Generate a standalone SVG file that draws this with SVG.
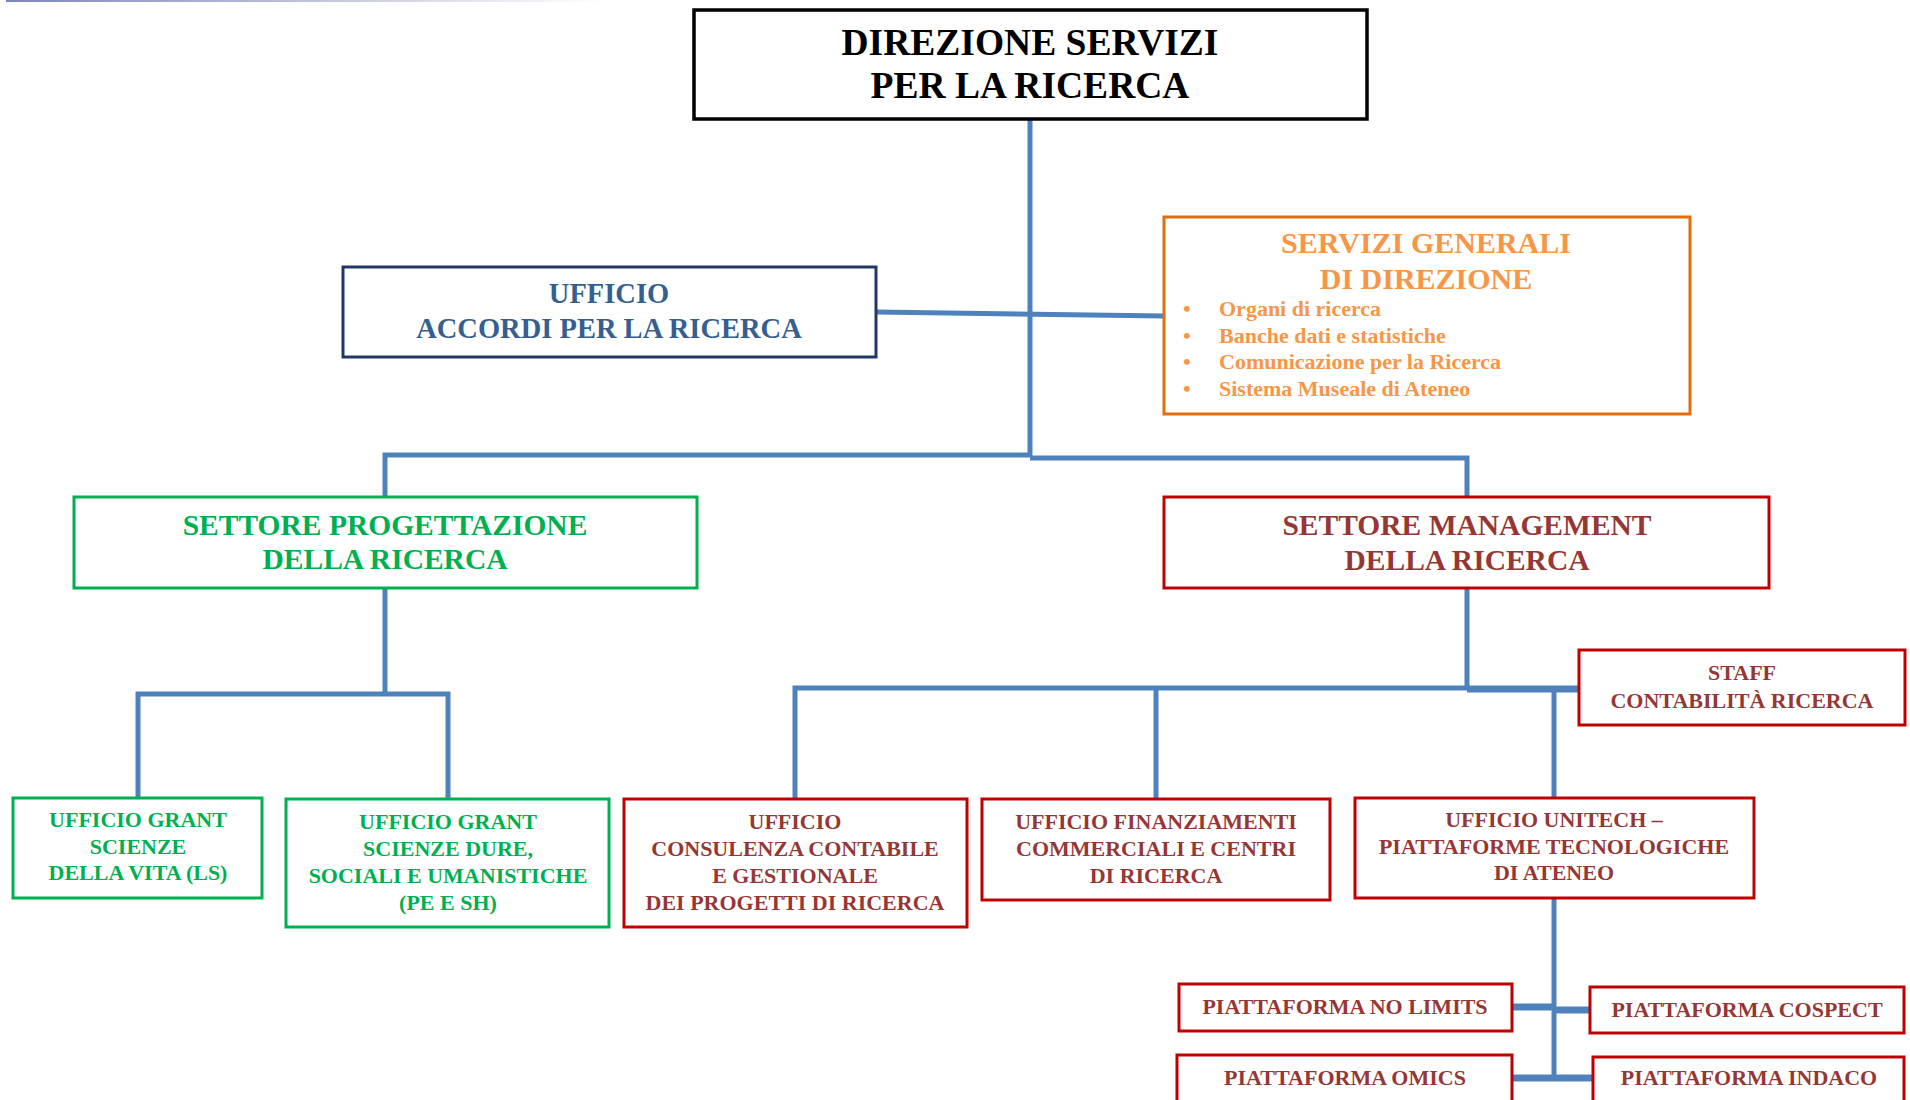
<svg xmlns="http://www.w3.org/2000/svg" width="1910" height="1100" viewBox="0 0 1910 1100">
<defs>
<linearGradient id="topline" x1="0" y1="0" x2="1" y2="0">
<stop offset="0" stop-color="#7F86B8"/>
<stop offset="1" stop-color="#FFFFFF"/>
</linearGradient>
</defs>
<style>
.t{font-family:"Liberation Serif","Times New Roman",serif;font-weight:bold;text-anchor:middle}
.b{fill:#FFFFFF;stroke-width:3}
.red{stroke:#C00000}
.rt{fill:#953735}
.grn{stroke:#00B050}
.gt{fill:#00B050}
.ot{fill:#F79646}
.c{stroke:#4F81BD;stroke-width:5;fill:none}
.ct{stroke:#4F81BD;stroke-width:7;fill:none}
.s22{font-size:22px}
.bl{font-family:"Liberation Serif","Times New Roman",serif;font-weight:bold;font-size:22px;fill:#F79646}
</style>
<rect width="1910" height="1100" fill="#FFFFFF"/>
<rect x="6" y="0" width="600" height="2" fill="url(#topline)"/>

<g id="connectors">
<path class="c" d="M1030 119 V456"/>
<path class="c" d="M876 312 L1164 316"/>
<path class="c" d="M385 497 V455 H1030"/>
<path class="c" d="M1030 458 H1467 V497"/>
<path class="c" d="M385 588 V694"/>
<path class="c" d="M138 798 V694 H448 V799"/>
<path class="c" d="M1467 588 V688"/>
<path class="c" d="M795 799 V688 H1467"/>
<path class="c" d="M1156 688 V799"/>
<path class="ct" d="M1467 689 H1579"/>
<path class="c" d="M1554 689 V798"/>
<path class="c" d="M1554 898 V1080"/>
<path class="ct" d="M1512 1007 H1554"/>
<path class="ct" d="M1554 1010 H1590"/>
<path class="ct" d="M1512 1078 H1593"/>
</g>

<g id="direzione">
<rect x="694" y="10" width="673" height="109" fill="#FFFFFF" stroke="#000000" stroke-width="3.5"/>
<text class="t" x="1030" y="55" font-size="37.5" fill="#000000">DIREZIONE SERVIZI</text>
<text class="t" x="1030" y="98" font-size="37.5" fill="#000000">PER LA RICERCA</text>
</g>

<g id="ufficio-accordi">
<rect x="343" y="267" width="533" height="90" class="b" stroke="#1F3864"/>
<text class="t" x="609" y="303" font-size="28.5" fill="#365F91">UFFICIO</text>
<text class="t" x="609" y="338" font-size="28.5" fill="#365F91">ACCORDI PER LA RICERCA</text>
</g>

<g id="servizi-generali">
<rect x="1164" y="217" width="526" height="197" class="b" stroke="#E46C0A"/>
<text class="t ot" x="1426" y="253" font-size="30">SERVIZI GENERALI</text>
<text class="t ot" x="1426" y="289" font-size="30">DI DIREZIONE</text>
<text class="bl" x="1183" y="316">•</text>
<text class="bl" x="1219" y="316">Organi di ricerca</text>
<text class="bl" x="1183" y="343">•</text>
<text class="bl" x="1219" y="343">Banche dati e statistiche</text>
<text class="bl" x="1183" y="369">•</text>
<text class="bl" x="1219" y="369">Comunicazione per la Ricerca</text>
<text class="bl" x="1183" y="396">•</text>
<text class="bl" x="1219" y="396">Sistema Museale di Ateneo</text>
</g>

<g id="settore-progettazione">
<rect x="74" y="497" width="623" height="91" class="b grn"/>
<text class="t gt" x="385" y="535" font-size="29.5">SETTORE PROGETTAZIONE</text>
<text class="t gt" x="385" y="569" font-size="29.5">DELLA RICERCA</text>
</g>

<g id="settore-management">
<rect x="1164" y="497" width="605" height="91" class="b red"/>
<text class="t rt" x="1467" y="535" font-size="29.5">SETTORE MANAGEMENT</text>
<text class="t rt" x="1467" y="570" font-size="29.5">DELLA RICERCA</text>
</g>

<g id="staff-contabilita">
<rect x="1579" y="650" width="326" height="75" class="b red"/>
<text class="t rt s22" x="1742" y="680">STAFF</text>
<text class="t rt s22" x="1742" y="708">CONTABILITÀ RICERCA</text>
</g>

<g id="grant-ls">
<rect x="13" y="798" width="249" height="100" class="b grn"/>
<text class="t gt s22" x="138" y="827">UFFICIO GRANT</text>
<text class="t gt s22" x="138" y="854">SCIENZE</text>
<text class="t gt s22" x="138" y="880">DELLA VITA (LS)</text>
</g>

<g id="grant-pe-sh">
<rect x="286" y="799" width="323" height="128" class="b grn"/>
<text class="t gt s22" x="448" y="829">UFFICIO GRANT</text>
<text class="t gt s22" x="448" y="856">SCIENZE DURE,</text>
<text class="t gt s22" x="448" y="883">SOCIALI E UMANISTICHE</text>
<text class="t gt s22" x="448" y="910">(PE E SH)</text>
</g>

<g id="consulenza">
<rect x="624" y="799" width="343" height="128" class="b red"/>
<text class="t rt s22" x="795" y="829">UFFICIO</text>
<text class="t rt s22" x="795" y="856">CONSULENZA CONTABILE</text>
<text class="t rt s22" x="795" y="883">E GESTIONALE</text>
<text class="t rt s22" x="795" y="910">DEI PROGETTI DI RICERCA</text>
</g>

<g id="finanziamenti">
<rect x="982" y="799" width="348" height="101" class="b red"/>
<text class="t rt s22" x="1156" y="829">UFFICIO FINANZIAMENTI</text>
<text class="t rt s22" x="1156" y="856">COMMERCIALI E CENTRI</text>
<text class="t rt s22" x="1156" y="883">DI RICERCA</text>
</g>

<g id="unitech">
<rect x="1355" y="798" width="399" height="100" class="b red"/>
<text class="t rt s22" x="1554" y="827">UFFICIO UNITECH –</text>
<text class="t rt s22" x="1554" y="854">PIATTAFORME TECNOLOGICHE</text>
<text class="t rt s22" x="1554" y="880">DI ATENEO</text>
</g>

<g id="no-limits">
<rect x="1179" y="984" width="333" height="47" class="b red"/>
<text class="t rt s22" x="1345" y="1014">PIATTAFORMA NO LIMITS</text>
</g>

<g id="cospect">
<rect x="1590" y="987" width="314" height="46" class="b red"/>
<text class="t rt s22" x="1747" y="1017">PIATTAFORMA COSPECT</text>
</g>

<g id="omics">
<rect x="1177" y="1055" width="335" height="60" class="b red"/>
<text class="t rt s22" x="1345" y="1085">PIATTAFORMA OMICS</text>
</g>

<g id="indaco">
<rect x="1593" y="1057" width="311" height="60" class="b red"/>
<text class="t rt s22" x="1749" y="1085">PIATTAFORMA INDACO</text>
</g>
</svg>
